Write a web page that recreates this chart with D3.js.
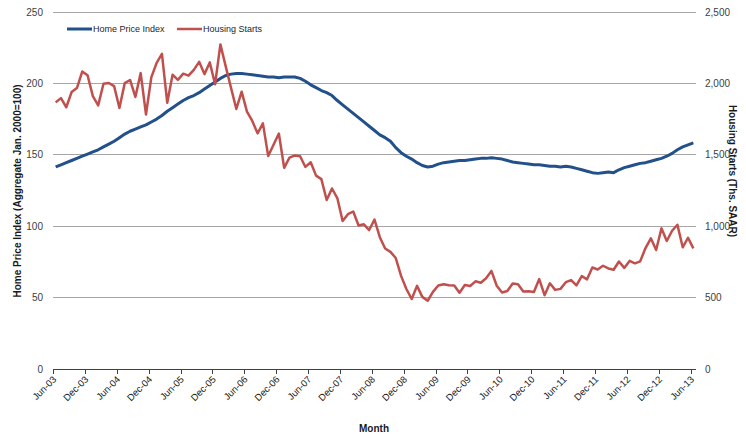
<!DOCTYPE html>
<html><head><meta charset="utf-8">
<script src="https://d3js.org/d3.v7.min.js"></script>
<style>
body{margin:0;background:#fff;}
text{font-family:"Liberation Sans",Arial,sans-serif;}
</style></head>
<body><svg id="c" width="746" height="438"></svg>
<script>
const startYear = 2003, startMonth = 5; // Jun-03
const seriesNames = ["Home Price Index", "Housing Starts"];
const homePriceIndex = [
 141.5,143,144.5,146,147.5,149,150.5,
 152,153.5,155.5,157.5,159.5,162,164.5,166.5,168,169.5,171,173,
 175,177.5,180.5,183,185.5,188,190,191.5,193.5,196,198.5,201,
 203.5,205.5,206.5,207,207,206.5,206,205.5,205,204.5,204.5,204,
 204.5,204.5,204.5,203.5,201.5,199,197,195,193.5,191.5,188,185,
 182,179,176,173,170,167,164,162,159.5,155,151.5,149,
 147,144.5,142.5,141.5,142,143.5,144.5,145,145.5,146,146,146.5,
 147,147.5,147.5,148,147.5,147,146,145,144.5,144,143.5,143,
 143,142.5,142,142,141.5,142,141.5,140.5,139.5,138.5,137.5,137,
 137.5,138,137.5,139.5,141,142,143,144,144.5,145.5,146.5,147.5,
 149,151,153.5,155.5,157,158.3
];
const housingStarts = [
 1867,1897,1833,1939,1967,2083,2057,
 1911,1846,1998,2003,1981,1828,2002,2024,1905,2072,1782,2042,
 2144,2207,1864,2061,2025,2068,2054,2095,2151,2065,2147,1994,
 2273,2119,1969,1821,1942,1802,1737,1650,1720,1491,1570,1649,
 1409,1480,1495,1490,1415,1448,1354,1330,1183,1264,1197,1037,
 1084,1103,1005,1013,973,1046,923,844,820,777,652,560,
 490,582,505,478,540,585,594,586,585,534,588,581,
 614,604,636,687,583,536,546,599,594,543,545,539,
 630,517,600,554,561,608,623,585,650,628,711,697,
 723,704,695,753,708,757,740,754,847,915,833,985,
 896,968,1010,852,919,845
];
const leftTicks = [0,50,100,150,200,250];
const rightTicks = [0,500,1000,1500,2000,2500];
const monthNames = ["Jan","Feb","Mar","Apr","May","Jun","Jul","Aug","Sep","Oct","Nov","Dec"];
const categories = homePriceIndex.map((_, i) => {
  const m = startMonth + i;
  const y = startYear + Math.floor(m / 12);
  return monthNames[m % 12] + "-" + String(y % 100).padStart(2, "0");
});

const svg = d3.select("#c");
const X0 = 53, X1 = 696, Y0 = 369, Y1 = 12;
const x = d3.scaleBand().domain(d3.range(categories.length)).range([X0, X1]).paddingInner(0).paddingOuter(0);
const yL = d3.scaleLinear().domain([0, 250]).range([Y0, Y1]);
const yR = d3.scaleLinear().domain([0, 2500]).range([Y0, Y1]);
const cx = i => x(i) + x.bandwidth() / 2;

// gridlines
svg.append("g").selectAll("line").data(leftTicks.filter(d => d > 0)).join("line")
  .attr("x1", X0).attr("x2", X1).attr("y1", d => yL(d)).attr("y2", d => yL(d))
  .attr("stroke", "#a6a6a6").attr("stroke-width", 1).attr("shape-rendering", "crispEdges");

// left axis labels
svg.append("g").selectAll("text").data(leftTicks).join("text")
  .attr("x", 43).attr("y", d => yL(d)).attr("dy", "0.35em").attr("text-anchor", "end")
  .attr("font-size", 10).attr("fill", "#404040").text(d => d);
// right axis labels
svg.append("g").selectAll("text").data(rightTicks).join("text")
  .attr("x", 705).attr("y", d => yR(d)).attr("dy", "0.35em").attr("text-anchor", "start")
  .attr("font-size", 10).attr("fill", "#404040").text(d => d3.format(",")(d));

// x axis
const tickIdx = d3.range(0, categories.length, 6);
svg.append("line").attr("x1", X0).attr("x2", X1).attr("y1", Y0).attr("y2", Y0)
  .attr("stroke", "#404040").attr("stroke-width", 1).attr("shape-rendering", "crispEdges");
svg.append("g").selectAll("line").data(tickIdx).join("line")
  .attr("x1", i => Math.round(x(i)) + 0.5).attr("x2", i => Math.round(x(i)) + 0.5)
  .attr("y1", Y0).attr("y2", Y0 + 5).attr("stroke", "#404040").attr("stroke-width", 1);
svg.append("g").selectAll("text").data(tickIdx).join("text")
  .attr("transform", i => `translate(${x(i) + 4},${Y0 + 11}) rotate(-45)`)
  .attr("text-anchor", "end").attr("font-size", 9.5).attr("fill", "#1a1a1a")
  .text(i => categories[i]);

// lines
const hpiLine = d3.line().x((d, i) => cx(i)).y(d => yL(d));
const hsLine = d3.line().x((d, i) => cx(i)).y(d => yR(d));
svg.append("path").datum(homePriceIndex).attr("d", hpiLine).attr("fill", "none")
  .attr("stroke", "#22508a").attr("stroke-width", 3).attr("stroke-linejoin", "round");
svg.append("path").datum(housingStarts).attr("d", hsLine).attr("fill", "none")
  .attr("stroke", "#c0504d").attr("stroke-width", 2.5).attr("stroke-linejoin", "round");

// legend
const leg = [{name: seriesNames[0], color: "#22508a", x: 67, w: 3}, {name: seriesNames[1], color: "#c0504d", x: 177, w: 2.5}];
leg.forEach(l => {
  svg.append("line").attr("x1", l.x).attr("x2", l.x + 25).attr("y1", 29).attr("y2", 29)
    .attr("stroke", l.color).attr("stroke-width", l.w);
  svg.append("text").attr("x", l.x + 26).attr("y", 29).attr("dy", "0.35em")
    .attr("font-size", 9).attr("fill", "#262626").text(l.name);
});

// axis titles
svg.append("text").attr("transform", "translate(21,191) rotate(-90)").attr("text-anchor", "middle")
  .attr("font-size", 10).attr("font-weight", "bold").attr("fill", "#1a1a1a")
  .text("Home Price Index (Aggregate Jan. 2000=100)");
svg.append("text").attr("transform", "translate(729,171) rotate(90)").attr("text-anchor", "middle")
  .attr("font-size", 10).attr("font-weight", "bold").attr("fill", "#1a1a1a")
  .text("Housing Starts (Ths. SAAR)");
svg.append("text").attr("x", 374).attr("y", 432).attr("text-anchor", "middle")
  .attr("font-size", 10).attr("font-weight", "bold").attr("fill", "#1a1a1a").text("Month");
</script></body></html>
